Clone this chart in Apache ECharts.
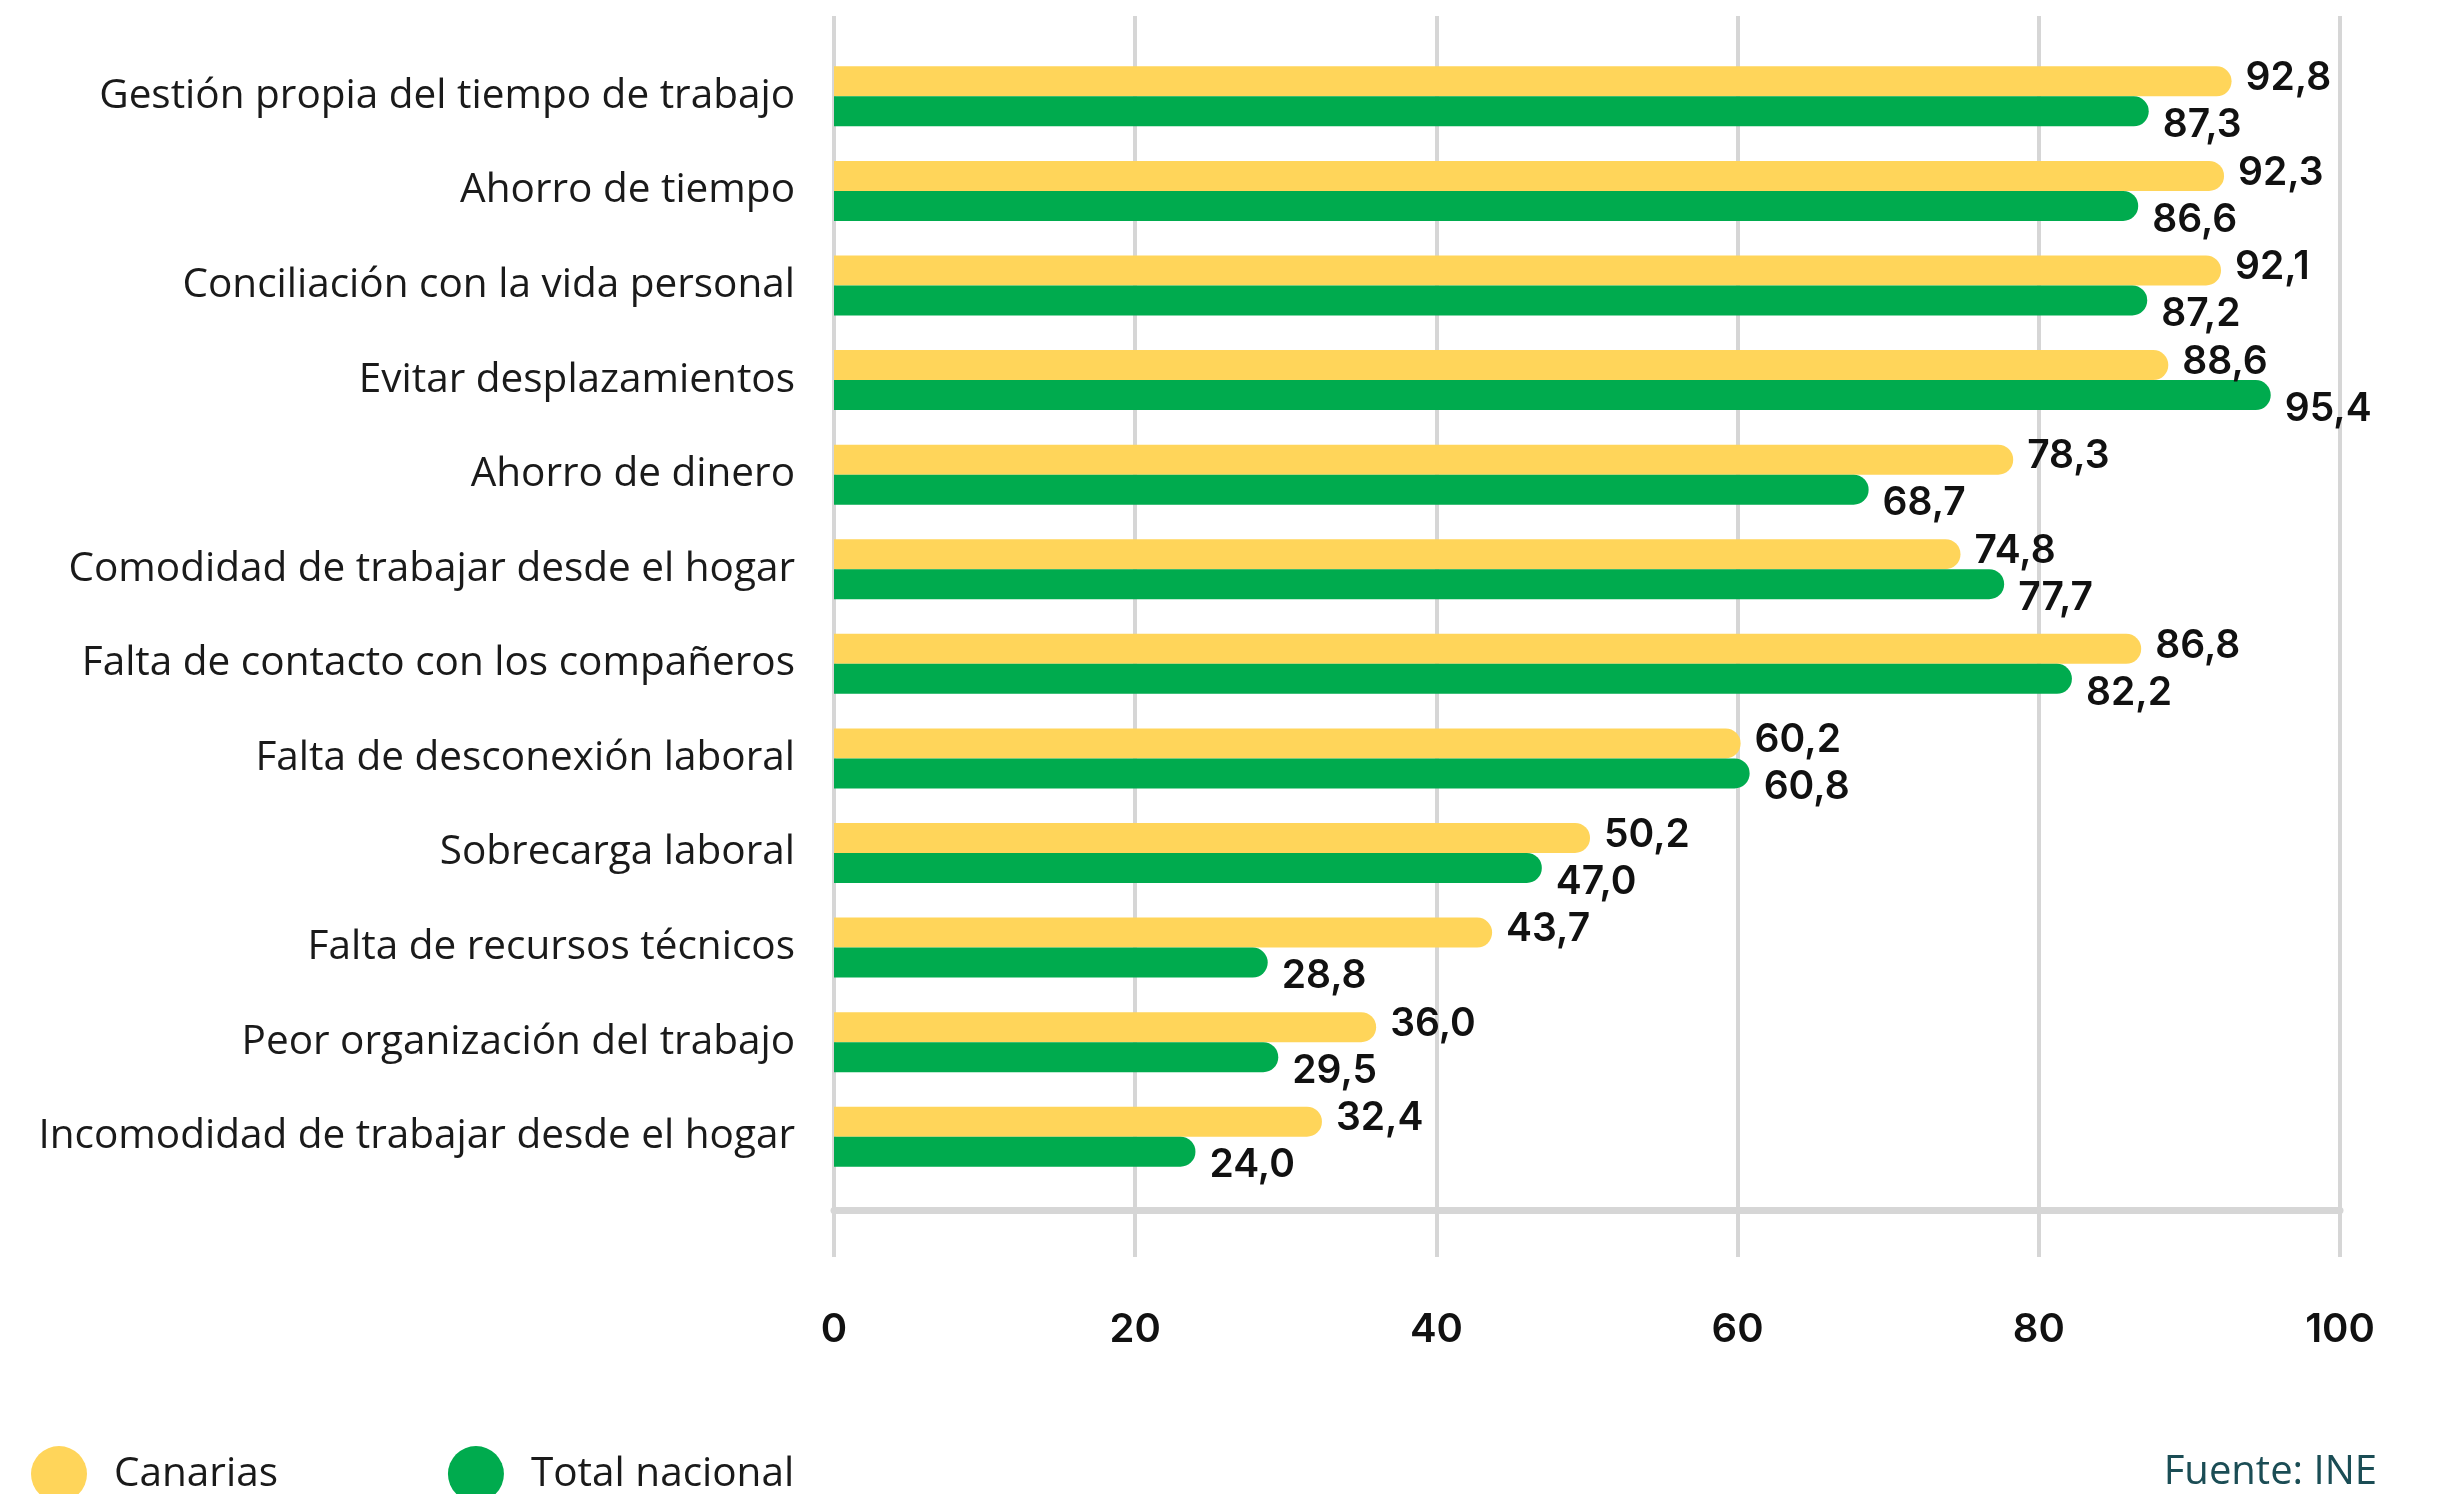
<!DOCTYPE html>
<html>
<head>
<meta charset="utf-8">
<script src="https://cdn.jsdelivr.net/npm/echarts@6/dist/echarts.min.js"></script>
<style>
  html, body { margin: 0; padding: 0; background: #ffffff; }
  #chart { width: 2454px; height: 1494px; }
</style>
</head>
<body>
<div id="chart"></div>
<script>
// Motivos y valoraciones del teletrabajo (%)
const categories = [
  'Gestión propia del tiempo de trabajo',
  'Ahorro de tiempo',
  'Conciliación con la vida personal',
  'Evitar desplazamientos',
  'Ahorro de dinero',
  'Comodidad de trabajar desde el hogar',
  'Falta de contacto con los compañeros',
  'Falta de desconexión laboral',
  'Sobrecarga laboral',
  'Falta de recursos técnicos',
  'Peor organización del trabajo',
  'Incomodidad de trabajar desde el hogar'
];
const canarias = [92.8, 92.3, 92.1, 88.6, 78.3, 74.8, 86.8, 60.2, 50.2, 43.7, 36.0, 32.4];
const totalNacional = [87.3, 86.6, 87.2, 95.4, 68.7, 77.7, 82.2, 60.8, 47.0, 28.8, 29.5, 24.0];
const xTicks = [0, 20, 40, 60, 80, 100];

const YELLOW = '#FFD55A';
const GREEN = '#00AB4E';
const GRID_GREY = '#d6d6d6';
const LABEL_FONT = '"Open Sans", "Noto Sans", sans-serif';
const NUM_FONT = 'Inter, "Open Sans", sans-serif';

const fmt = v => v.toFixed(1).replace('.', ',');

const chart = echarts.init(document.getElementById('chart'), null, { renderer: 'canvas' });

const valueLabel = (dy) => ({
  show: true,
  position: 'right',
  distance: 14,
  offset: [0, dy],
  formatter: p => fmt(p.value),
  fontFamily: NUM_FONT,
  fontWeight: 600,
  fontSize: 39,
  color: '#111111'
});

chart.setOption({
  animation: false,
  backgroundColor: '#ffffff',
  grid: [
    // bars
    { left: 834, right: 114, top: 49, height: 1135, containLabel: false },
    // scale frame: gridlines, baseline and tick labels
    { left: 834, right: 114, top: 16, height: 1194, containLabel: false }
  ],
  xAxis: [
    { gridIndex: 0, type: 'value', min: 0, max: 100, show: false },
    {
      gridIndex: 1, type: 'value', min: xTicks[0], max: xTicks[xTicks.length - 1],
      interval: xTicks[1] - xTicks[0],
      axisLine: { show: true, lineStyle: { color: GRID_GREY, width: 7 } },
      axisTick: { show: true, length: 47, lineStyle: { color: GRID_GREY, width: 4 } },
      splitLine: { show: true, lineStyle: { color: GRID_GREY, width: 4 } },
      axisLabel: {
        margin: 100,
        fontFamily: NUM_FONT, fontWeight: 600, fontSize: 40, color: '#111111',
        formatter: v => String(v)
      }
    }
  ],
  yAxis: [
    {
      gridIndex: 0, type: 'category', data: categories, inverse: true,
      axisLine: { show: false }, axisTick: { show: false }, splitLine: { show: false },
      axisLabel: {
        margin: 39, fontFamily: LABEL_FONT, fontWeight: 400, fontSize: 40.5, color: '#1a1a1a'
      }
    },
    { gridIndex: 1, type: 'value', min: 0, max: 1, show: false }
  ],
  legend: {
    left: 31, top: 1446, padding: 0,
    icon: 'circle', itemWidth: 56, itemHeight: 56, itemGap: 170,
    textStyle: {
      fontFamily: LABEL_FONT, fontWeight: 400, fontSize: 40.5, color: '#1a1a1a', padding: [0, 0, 0, 22]
    },
    data: ['Canarias', 'Total nacional']
  },
  title: {
    text: 'Fuente: INE',
    right: 77, top: 1453, padding: 0,
    textStyle: { fontFamily: LABEL_FONT, fontWeight: 400, fontSize: 40, color: '#1b4d55' }
  },
  series: [
    {
      name: 'Canarias', type: 'bar', xAxisIndex: 0, yAxisIndex: 0,
      data: canarias, barWidth: 30, barGap: '0%',
      itemStyle: { color: YELLOW, borderRadius: [0, 15, 15, 0] },
      label: valueLabel(-3)
    },
    {
      name: 'Total nacional', type: 'bar', xAxisIndex: 0, yAxisIndex: 0,
      data: totalNacional, barWidth: 30, barGap: '0%',
      itemStyle: { color: GREEN, borderRadius: [0, 15, 15, 0] },
      label: valueLabel(14)
    }
  ]
});
</script>
</body>
</html>
